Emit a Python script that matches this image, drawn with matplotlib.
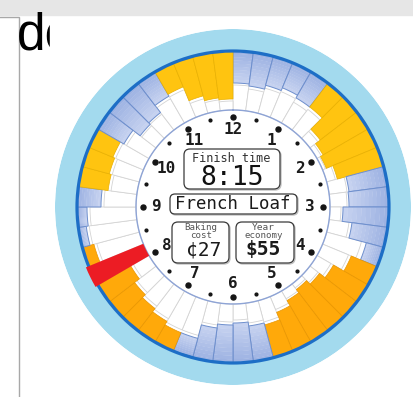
import numpy as np
import matplotlib
matplotlib.use("Agg")
import matplotlib.pyplot as plt
from matplotlib.patches import Rectangle, FancyBboxPatch
from matplotlib.colors import to_rgb

# 48 quarter-hour slots around a 12 hour dial, starting at 12 o'clock
slot_kind = (["blue"] * 5 + ["yellow"] * 5 + ["blue"] * 5 + ["orange"] * 7 +
             ["blue"] * 5 + ["orange"] * 5 + ["red"] + ["orange"] +
             ["blue"] * 3 + ["yellow"] * 3 + ["blue"] * 4 + ["yellow"] * 4)
# tariff bar length (px, measured inward from the rim)
slot_tariff = [32, 34, 30, 27, 30, 30, 46, 52, 55, 48,
               39, 40, 46, 36, 18, 28, 40, 47, 52, 48,
               42, 34, 36, 40, 38, 34, 20, 20, 24, 28,
               32, 38, 59, 12, 8, 10, 24, 30, 28, 26,
               30, 39, 37, 28, 26, 41, 46, 48]
# white load bar length (px, measured outward from the dial face)
slot_load = [25, 22, 26, 28, 24, 26, 10, 5, 3, 9,
             18, 17, 11, 20, 36, 28, 16, 10, 5, 9,
             14, 22, 20, 16, 18, 22, 36, 36, 32, 28,
             24, 18, 0, 44, 48, 46, 32, 26, 28, 30,
             26, 18, 20, 28, 30, 15, 11, 9]

finish_time = "8:15"
recipe = "French Loaf"
baking_cost = "¢27"
year_economy = "$55"

R_FACE, R_RING, R_OUT = 97, 156, 178
CX, CY = 233, 207
W, H = 413, 397

colors = {"blue": "#9db2e2", "yellow": "#ffc410", "orange": "#ffa90a", "red": "#ec1c24"}
edges = {"blue": "#6e8fcd", "yellow": "#e9b000", "orange": "#e99600", "red": "#ec1c24"}

fig = plt.figure(figsize=(W / 100, H / 100), dpi=100)

# page behind the widget
bg = fig.add_axes([0, 0, 1, 1])
bg.set_xlim(0, W)
bg.set_ylim(H, 0)
bg.axis("off")
bg.add_patch(Rectangle((0, 0), W, 15, color="#e6e6e6", zorder=0))
bg.add_patch(Rectangle((-3, 16.5), 21.5, 400, fc="white", ec="#a8a8a8", lw=1, zorder=1))
bg.text(17, 50, "dc", fontsize=37, family=["Liberation Sans Narrow", "Liberation Sans"],
        color="black", va="baseline", ha="left", zorder=2)
bg.add_patch(Rectangle((50, 17), W, H, color="white", zorder=3))

# dial
ax = fig.add_axes([(CX - R_OUT) / W, (H - CY - R_OUT) / H, 2 * R_OUT / W, 2 * R_OUT / H],
                  projection="polar")
ax.set_theta_zero_location("N")
ax.set_theta_direction(-1)
ax.set_ylim(0, R_OUT)
ax.set_axis_off()

n = len(slot_kind)
width = 2 * np.pi / n
theta = (np.arange(n) + 0.5) * width

ax.bar(0, R_OUT, width=2 * np.pi, bottom=0, color="#a3daee", lw=0, zorder=1)
ax.bar(0, R_RING, width=2 * np.pi, bottom=0, color="white", lw=0, zorder=1)

# white load bars
for th, ln, kind in zip(theta, slot_load, slot_kind):
    if ln > 0:
        ax.bar(th, ln, width=width, bottom=R_FACE, color="white",
               edgecolor="#d4d4d4", linewidth=0.6, zorder=2)

# coloured tariff bars, blue ones fade toward the centre
light = np.array(to_rgb("#c6d2f0"))
for th, ln, kind in zip(theta, slot_tariff, slot_kind):
    if kind == "red":
        continue
    base = R_RING - ln
    if kind == "blue":
        steps = 10
        dark = np.array(to_rgb(colors["blue"]))
        for k in range(steps):
            f = k / (steps - 1)
            ax.bar(th, ln / steps + 0.3, width=width, bottom=base + ln * k / steps,
                   color=light * (1 - f) + dark * f, lw=0, zorder=3)
        ax.bar(th, ln, width=width, bottom=base, fill=False,
               edgecolor=edges[kind], linewidth=0.7, zorder=3)
    else:
        ax.bar(th, ln, width=width, bottom=base, color=colors[kind],
               edgecolor=edges[kind], linewidth=0.5, zorder=3)

# selected finish slot
hh, mm = map(int, finish_time.split(":"))
sel = hh * 4 + mm // 15 - 1
ax.bar(theta[sel], slot_tariff[sel] + 3, width=width * 1.05, bottom=R_RING - slot_tariff[sel],
       color=colors["red"], lw=0, zorder=5)

# rim
ax.bar(0, 3.2, width=2 * np.pi, bottom=R_RING - 1.6, color="#1d6ec6", lw=0, zorder=4)

# dial face
ring = np.linspace(0, 2 * np.pi, 400)
ax.plot(ring, np.full_like(ring, R_FACE), color="#8ea4d6", lw=1.0, zorder=4)

hours = np.arange(12)
ax.plot(np.deg2rad(hours * 30), np.full(12, 90), "o", color="#151515", ms=3.6, zorder=6)
ax.plot(np.deg2rad(hours * 30 + 15), np.full(12, 90), "o", color="#151515", ms=2.0, zorder=6)
for h in range(1, 13):
    ax.text(np.deg2rad(h * 30), 77, str(h), ha="center", va="center", fontsize=11.5,
            family="DejaVu Sans Mono", weight="bold", color="#1c1c1c", zorder=6)

# info boxes
ov = fig.add_axes([0, 0, 1, 1], zorder=5)
ov.set_xlim(0, W)
ov.set_ylim(H, 0)
ov.axis("off")
ov.patch.set_alpha(0)


def box(x0, y0, x1, y1, r=6):
    ov.add_patch(FancyBboxPatch((x0 + 1, y0 + 1), x1 - x0, y1 - y0,
                                boxstyle=f"round,pad=0,rounding_size={r}",
                                fc="none", ec="#c0c0c0", lw=1.0))
    ov.add_patch(FancyBboxPatch((x0, y0), x1 - x0, y1 - y0,
                                boxstyle=f"round,pad=0,rounding_size={r}",
                                fc="white", ec="#3a3a3a", lw=0.9))


mono = "DejaVu Sans Mono"
box(184, 149, 280, 189)
ov.text(231, 158, "Finish time", ha="center", va="center", fontsize=8.5, family=mono, color="#333333")
ov.text(232, 178, finish_time, ha="center", va="center", fontsize=19, family=mono, color="#111111")

box(170, 194, 297, 214, r=5)
ov.text(233, 204, recipe, ha="center", va="center", fontsize=12.5, family=mono, color="#1a1a1a")

box(172, 222, 229, 263)
ov.text(201, 227, "Baking", ha="center", va="center", fontsize=6.6, family=mono, color="#555555")
ov.text(201, 236, "cost", ha="center", va="center", fontsize=6.6, family=mono, color="#555555")
ov.text(204, 250, baking_cost, ha="center", va="center", fontsize=14, family=mono, color="#1a1a1a")

box(236, 222, 294, 263)
ov.text(263, 227, "Year", ha="center", va="center", fontsize=6.8, family=mono, color="#555555")
ov.text(264, 236, "economy", ha="center", va="center", fontsize=6.6, family=mono, color="#555555")
ov.text(263, 250, year_economy, ha="center", va="center", fontsize=14, family=mono,
        weight="bold", color="#1a1a1a")

fig.savefig("out.png", dpi=100)
